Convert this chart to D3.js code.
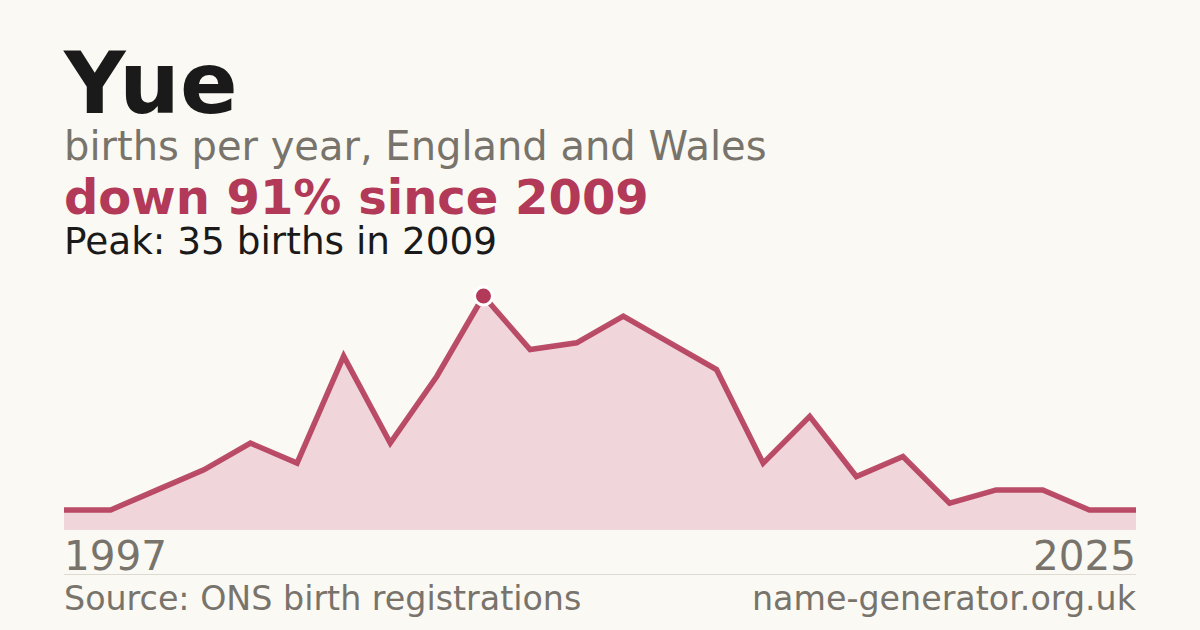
<!DOCTYPE html>
<html>
<head>
<meta charset="utf-8">
<script src="https://cdn.jsdelivr.net/npm/d3@7"></script>
<style>
  html, body { margin: 0; padding: 0; background: #faf9f4; }
  svg { display: block; }
  text { font-family: "DejaVu Sans", sans-serif; }
</style>
</head>
<body>
<svg id="chart" width="1200" height="630"></svg>
<script>
const years = [1997, 1998, 2000, 2002, 2003, 2004, 2005, 2006, 2008, 2009, 2010, 2011,
               2012, 2013, 2014, 2015, 2016, 2017, 2018, 2019, 2020, 2021, 2023, 2025];
const births = [3, 3, 6, 9, 13, 10, 26, 13, 23, 35, 27, 28,
                32, 28, 24, 10, 17, 8, 11, 4, 6, 6, 3, 3];
const axisLabels = ["1997", "2025"];
const titleText = "Yue";
const subtitleText = "births per year, England and Wales";
const changeText = "down 91% since 2009";
const peakText = "Peak: 35 births in 2009";
const sourceText = "Source: ONS birth registrations";
const siteText = "name-generator.org.uk";

const W = 1200, H = 630;
const plotLeft = 64, plotRight = 1136, plotTop = 296, plotBottom = 530;
const accent = "#b23a58", gray = "#78736b", bg = "#faf9f4";

const svg = d3.select("#chart");
svg.append("rect").attr("width", W).attr("height", H).attr("fill", bg);

const data = years.map((yr, i) => ({ year: yr, value: births[i] }));

const x = d3.scalePoint().domain(years).range([plotLeft, plotRight]);
const y = d3.scaleLinear().domain([0, d3.max(births)]).range([plotBottom, plotTop]);

// Titles
svg.append("text").attr("x", 64).attr("y", 113)
  .attr("font-size", 85).attr("font-weight", "bold").attr("fill", "#1a1a1a")
  .text(titleText);
svg.append("text").attr("x", 64).attr("y", 160)
  .attr("font-size", 40).attr("fill", gray).text(subtitleText);
svg.append("text").attr("x", 64).attr("y", 214)
  .attr("font-size", 48).attr("font-weight", "bold").attr("fill", accent).text(changeText);
svg.append("text").attr("x", 64).attr("y", 254)
  .attr("font-size", 37.4).attr("fill", "#1a1a1a").text(peakText);

// Area
const area = d3.area().x(d => x(d.year)).y0(y(0)).y1(d => y(d.value));
svg.append("path").datum(data).attr("d", area).attr("fill", "#f0d5da");

// Line
const line = d3.line().x(d => x(d.year)).y(d => y(d.value));
svg.append("path").datum(data).attr("d", line)
  .attr("fill", "none").attr("stroke", accent).attr("stroke-width", 5.5)
  .attr("stroke-linejoin", "miter").attr("stroke-opacity", 0.9);

// Peak marker
const peak = data.reduce((a, b) => (b.value > a.value ? b : a));
svg.append("circle").attr("cx", x(peak.year)).attr("cy", y(peak.value))
  .attr("r", 9).attr("fill", accent).attr("stroke", "#ffffff").attr("stroke-width", 3);

// Axis labels
svg.append("text").attr("x", x(years[0])).attr("y", 570)
  .attr("font-size", 40.5).attr("fill", gray).text(axisLabels[0]);
svg.append("text").attr("x", x(years[years.length - 1])).attr("y", 570)
  .attr("text-anchor", "end").attr("font-size", 40.5).attr("fill", gray).text(axisLabels[1]);

// Separator
svg.append("line").attr("x1", plotLeft).attr("x2", plotRight).attr("y1", 574.5).attr("y2", 574.5)
  .attr("stroke", "#dedad2").attr("stroke-width", 1);

// Footer
svg.append("text").attr("x", 64).attr("y", 610)
  .attr("font-size", 33.3).attr("fill", gray).text(sourceText);
svg.append("text").attr("x", 1136).attr("y", 610).attr("text-anchor", "end")
  .attr("font-size", 33.3).attr("fill", gray).text(siteText);
</script>
</body>
</html>
